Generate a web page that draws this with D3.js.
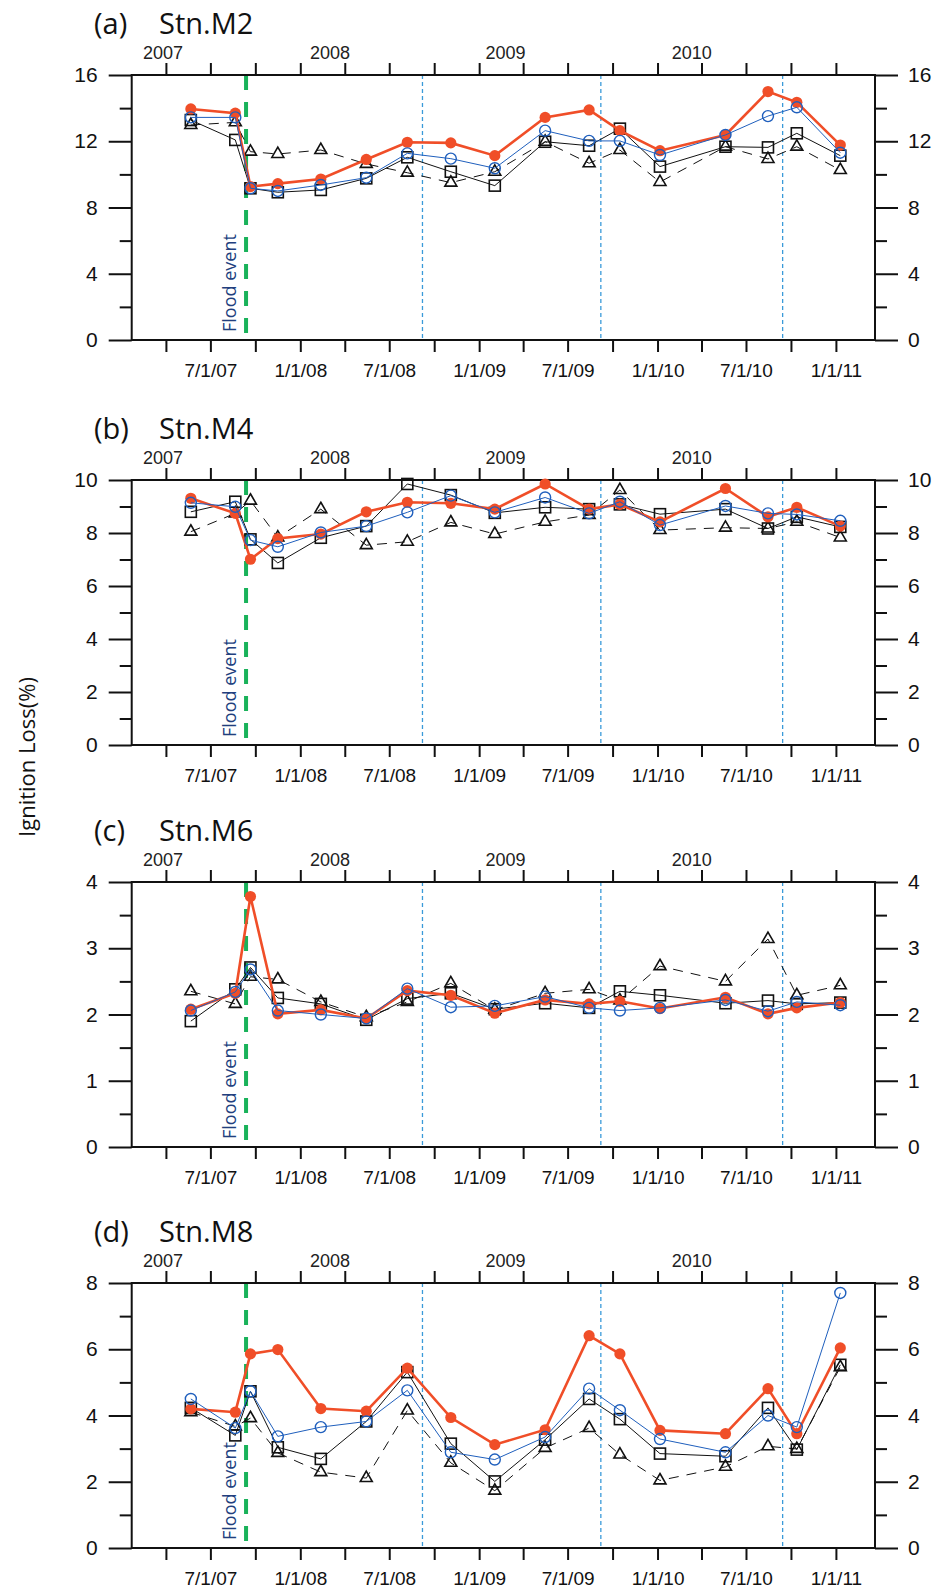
<!DOCTYPE html>
<html>
<head>
<meta charset="utf-8">
<script src="https://cdn.jsdelivr.net/npm/d3@7"></script>
<style>
  body { margin: 0; background: #fff; }
  svg { display: block; }
</style>
</head>
<body>
<svg id="vis"></svg>
<script>
const WIDTH = 938;
const HEIGHT = 1593;

// sampling dates (same for every station)
const dates = ["2007-05-22","2007-08-21","2007-09-21","2007-11-16","2008-02-12","2008-05-15",
  "2008-08-07","2008-11-04","2009-02-02","2009-05-16","2009-08-14","2009-10-16","2010-01-06",
  "2010-05-20","2010-08-15","2010-10-13","2011-01-10"];

const floodDate = "2007-09-12";
const yearLines = ["2008-09-07", "2009-09-07", "2010-09-14"];
const yearLabels = ["2007", "2008", "2009", "2010"];
const yearLabelDates = ["2007-03-26", "2008-03-02", "2009-02-24", "2010-03-12"];

const stations = ["Stn.M2", "Stn.M4", "Stn.M6", "Stn.M8"];
const letters = ["(a)", "(b)", "(c)", "(d)"];
const yMax = [16, 10, 4, 8];
const yStep = [4, 2, 1, 2];

// red filled circles
const redVals = [
  [13.95,13.7,9.26,9.44,9.72,10.9,11.94,11.9,11.13,13.44,13.89,12.64,11.43,12.38,15.0,14.35,11.77],
  [9.31,8.74,7.01,7.79,7.96,8.80,9.16,9.12,8.9,9.85,8.9,9.08,8.42,9.68,8.61,8.97,8.26],
  [2.08,2.32,3.78,2.01,2.07,1.94,2.36,2.29,2.02,2.22,2.16,2.2,2.09,2.26,2.01,2.1,2.18],
  [4.2,4.1,5.86,5.99,4.21,4.13,5.43,3.94,3.12,3.57,6.41,5.86,3.55,3.45,4.81,3.45,6.04]
];
// blue open circles
const blueVals = [
  [13.44,13.44,9.16,9.0,9.36,9.8,11.27,10.95,10.37,12.64,12.02,12.02,11.17,12.38,13.52,14.05,11.31],
  [9.14,8.99,7.73,7.48,8.02,8.26,8.78,9.41,8.78,9.34,8.74,9.18,8.3,9.02,8.74,8.7,8.46],
  [2.06,2.34,2.68,2.06,2.0,1.94,2.39,2.11,2.13,2.27,2.1,2.06,2.1,2.22,2.05,2.19,2.14],
  [4.5,3.62,4.73,3.37,3.65,3.82,4.76,2.89,2.67,3.35,4.81,4.16,3.29,2.89,4.0,3.65,7.7]
];
// open squares
const squareVals = [
  [13.28,12.08,9.16,8.92,9.06,9.76,11.03,10.16,9.32,11.97,11.73,12.76,10.47,11.67,11.63,12.48,11.13],
  [8.8,9.18,7.76,6.87,7.82,8.26,9.85,9.43,8.76,8.97,8.9,9.08,8.71,8.9,8.17,8.61,8.23],
  [1.9,2.38,2.71,2.25,2.16,1.92,2.24,2.32,2.08,2.17,2.1,2.35,2.29,2.17,2.21,2.16,2.18],
  [4.23,3.4,4.73,3.04,2.69,3.82,5.31,3.15,2.01,3.27,4.5,3.89,2.85,2.77,4.23,2.97,5.53]
];
// open triangles, dashed
const triangleVals = [
  [12.98,13.14,11.37,11.23,11.47,10.63,10.1,9.5,10.16,11.97,10.67,11.47,9.54,11.67,10.93,11.67,10.26],
  [8.05,8.74,9.22,7.83,8.9,7.54,7.67,8.4,7.96,8.42,8.68,9.62,8.11,8.2,8.17,8.42,7.83],
  [2.35,2.16,2.57,2.53,2.19,1.96,2.19,2.47,2.07,2.32,2.38,2.21,2.73,2.5,3.14,2.29,2.44],
  [4.1,3.67,3.92,2.87,2.29,2.11,4.15,2.57,1.73,3.02,3.62,2.82,2.04,2.45,3.07,2.99,5.46]
];

const parse = d3.timeParse("%Y-%m-%d");
const X0 = 131.7, X1 = 875;
const panelTops = [75, 480, 882, 1283];
const PH = 265;

const RED = "#f04e28", BLUE = "#1f5fbd", GREEN = "#19b25a", DOT = "#3a9ad9", NAVY = "#223f7e";
const TICKFONT = "'Liberation Sans', Arial, Helvetica, sans-serif";
const TITLEFONT = "'Open Sans', 'Noto Sans', sans-serif";

const SVG = d3.select("#vis").attr("width", WIDTH).attr("height", HEIGHT);

const x = d3.scaleTime()
  .domain([parse("2007-01-21"), parse("2011-03-22")])
  .range([X0, X1]);

const quarterTicks = d3.timeMonth.range(parse("2007-04-01"), parse("2011-01-02"), 3);
const fmt = (d) => `${d.getMonth() + 1}/${d.getDate()}/${String(d.getFullYear()).slice(2)}`;

// y axis title
SVG.append("text")
  .attr("transform", "translate(35,757) rotate(-90)")
  .attr("text-anchor", "middle")
  .style("font-family", TITLEFONT)
  .style("font-size", "22px")
  .attr("fill", "#111")
  .text("Ignition Loss(%)");

stations.forEach(function(stn, p) {
  const top = panelTops[p];
  const g = SVG.append("g").attr("transform", `translate(0,${top})`);
  const y = d3.scaleLinear().domain([0, yMax[p]]).range([PH, 0]);
  const major = d3.range(0, yMax[p] + 0.001, yStep[p]);
  const minor = d3.range(yStep[p] / 2, yMax[p], yStep[p]);

  // title
  g.append("text").attr("x", 94).attr("y", -41)
    .style("font-family", TITLEFONT).style("font-size", "29px").attr("fill", "#111")
    .text(letters[p]);
  g.append("text").attr("x", 159).attr("y", -41)
    .style("font-family", TITLEFONT).style("font-size", "29px").attr("fill", "#111")
    .text(stn);

  // vertical markers
  g.append("line")
    .attr("x1", x(parse(floodDate))).attr("x2", x(parse(floodDate)))
    .attr("y1", 0).attr("y2", PH - 6)
    .attr("stroke", GREEN).attr("stroke-width", 4).attr("stroke-dasharray", "15,12");
  g.selectAll(".yrline").data(yearLines).enter().append("line")
    .attr("x1", (d) => x(parse(d))).attr("x2", (d) => x(parse(d)))
    .attr("y1", 0).attr("y2", PH)
    .attr("stroke", DOT).attr("stroke-width", 1.3).attr("stroke-dasharray", "4,3");

  g.append("text")
    .attr("transform", `translate(${x(parse(floodDate)) - 10},${PH - 8}) rotate(-90)`)
    .style("font-family", TITLEFONT).style("font-size", "18px").attr("fill", NAVY)
    .text("Flood event");

  // axes
  const axes = g.append("g").attr("class", "axes");
  const left = axes.append("g").attr("transform", `translate(${X0},0)`)
    .call(d3.axisLeft(y).tickValues(major).tickSize(23).tickFormat(d3.format("d")));
  axes.append("g").attr("transform", `translate(${X0},0)`)
    .call(d3.axisLeft(y).tickValues(minor).tickSize(12).tickFormat(""));
  const right = axes.append("g").attr("transform", `translate(${X1},0)`)
    .call(d3.axisRight(y).tickValues(major).tickSize(23).tickFormat(d3.format("d")));
  axes.append("g").attr("transform", `translate(${X1},0)`)
    .call(d3.axisRight(y).tickValues(minor).tickSize(12).tickFormat(""));
  axes.append("g")
    .call(d3.axisTop(x).tickValues(quarterTicks).tickSize(12).tickFormat(""));
  const bottom = axes.append("g").attr("transform", `translate(0,${PH})`)
    .call(d3.axisBottom(x).tickValues(quarterTicks).tickSize(12).tickPadding(12)
      .tickFormat((d) => (d.getMonth() % 6 === 0 ? fmt(d) : "")));

  axes.selectAll(".domain").remove();
  axes.selectAll(".tick line").attr("stroke", "#111").attr("stroke-width", 2);
  axes.selectAll(".tick text").attr("fill", "#111")
    .style("font-family", TICKFONT);
  left.selectAll(".tick text").attr("x", -34).style("font-size", "21px");
  right.selectAll(".tick text").attr("x", 33).style("font-size", "21px");
  bottom.selectAll(".tick text").style("font-size", "19px");

  g.append("rect").attr("x", X0).attr("y", 0).attr("width", X1 - X0).attr("height", PH)
    .attr("fill", "none").attr("stroke", "#111").attr("stroke-width", 2);

  // year labels on top
  g.selectAll(".yr").data(yearLabels).enter().append("text")
    .attr("x", (d, i) => x(parse(yearLabelDates[i])))
    .attr("y", -16)
    .attr("text-anchor", "middle")
    .style("font-family", TICKFONT).style("font-size", "18px").attr("fill", "#222")
    .text((d) => d);

  const pts = (vals) => vals.map((v, i) => ({ date: parse(dates[i]), v: v }));
  const line = d3.line().x((d) => x(d.date)).y((d) => y(d.v));

  // triangles (dashed)
  const tri = pts(triangleVals[p]);
  g.append("path").datum(tri).attr("d", line)
    .attr("fill", "none").attr("stroke", "#111").attr("stroke-width", 1).attr("stroke-dasharray", "10,8");
  g.selectAll(".tri").data(tri).enter().append("path")
    .attr("transform", (d) => `translate(${x(d.date)},${y(d.v)})`)
    .attr("d", d3.symbol(d3.symbolTriangle, 62))
    .attr("fill", "none").attr("stroke", "#111").attr("stroke-width", 1.6);

  // squares
  const sq = pts(squareVals[p]);
  g.append("path").datum(sq).attr("d", line)
    .attr("fill", "none").attr("stroke", "#111").attr("stroke-width", 1);
  g.selectAll(".sq").data(sq).enter().append("rect")
    .attr("x", (d) => x(d.date) - 5.5).attr("y", (d) => y(d.v) - 5.5)
    .attr("width", 11).attr("height", 11)
    .attr("fill", "none").attr("stroke", "#111").attr("stroke-width", 1.6);

  // red filled
  const red = pts(redVals[p]);
  g.append("path").datum(red).attr("d", line)
    .attr("fill", "none").attr("stroke", RED).attr("stroke-width", 2.6);
  g.selectAll(".red").data(red).enter().append("circle")
    .attr("cx", (d) => x(d.date)).attr("cy", (d) => y(d.v)).attr("r", 5.6)
    .attr("fill", RED);

  // blue open
  const blue = pts(blueVals[p]);
  g.append("path").datum(blue).attr("d", line)
    .attr("fill", "none").attr("stroke", BLUE).attr("stroke-width", 1);
  g.selectAll(".blue").data(blue).enter().append("circle")
    .attr("cx", (d) => x(d.date)).attr("cy", (d) => y(d.v)).attr("r", 5.5)
    .attr("fill", "none").attr("stroke", BLUE).attr("stroke-width", 1.4);
});
</script>
</body>
</html>
